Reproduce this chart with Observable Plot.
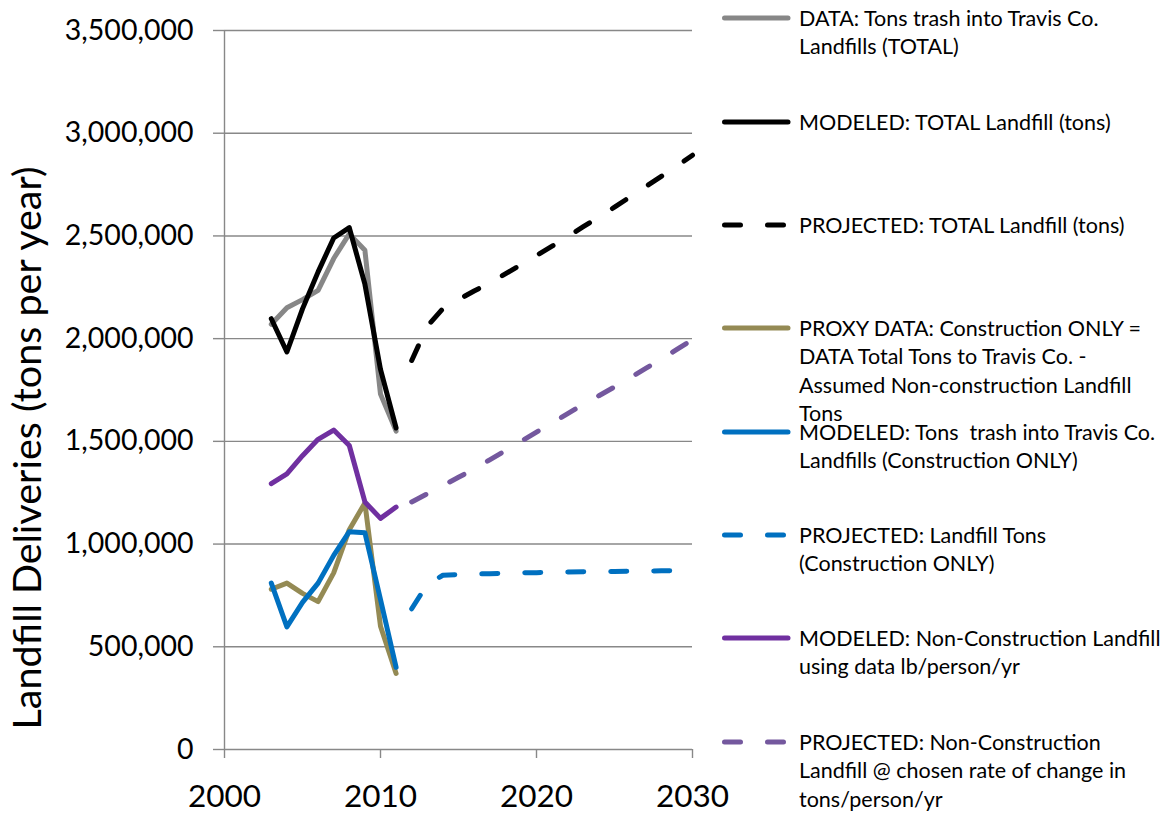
<!DOCTYPE html>
<html><head><meta charset="utf-8">
<script src="https://cdn.jsdelivr.net/npm/d3@7"></script>
<script src="https://cdn.jsdelivr.net/npm/@observablehq/plot@0.6"></script>
<style>
body{margin:0;background:#fff;}
#wrap{position:relative;width:1166px;height:814px;font-family:Lato,"Open Sans",sans-serif;}
#legend{position:absolute;left:0;top:0;pointer-events:none;}
</style></head><body><div id="wrap"></div>
<script>
// ---- data (tons per year) ----
const histYears = [2003, 2004, 2005, 2006, 2007, 2008, 2009, 2010, 2011];
const dataTotal = [2070000, 2150000, 2190000, 2235000, 2390000, 2510000, 2430000, 1730000, 1550000];
const modeledTotal = [2097000, 1935000, 2145000, 2325000, 2490000, 2540000, 2265000, 1850000, 1565000];
const proxyConstruction = [780000, 810000, 760000, 720000, 860000, 1070000, 1200000, 600000, 370000];
const modeledConstruction = [810000, 597000, 716000, 810000, 945000, 1060000, 1055000, 730000, 400000];
const modeledNonConstruction = [1294000, 1342000, 1430000, 1510000, 1555000, 1480000, 1205000, 1125000, 1180000];

const projYears = [2012, 2013, 2014, 2015, 2016, 2017, 2018, 2019, 2020, 2021, 2022, 2023, 2024, 2025, 2026, 2027, 2028, 2029, 2030];
const projTotal = [1894000, 2060000, 2146000, 2190000, 2232000, 2270000, 2315000, 2360000, 2405000, 2450000, 2497000, 2545000, 2592000, 2640000, 2690000, 2740000, 2790000, 2840000, 2893000];
const projConstruction = [685000, 805000, 848000, 852000, 854000, 856000, 858000, 860000, 861000, 862000, 864000, 865000, 866000, 867000, 868000, 869000, 870000, 871000, 873000];
const projNonConstruction = [1205000, 1245000, 1285000, 1325000, 1365000, 1410000, 1455000, 1500000, 1545000, 1590000, 1635000, 1680000, 1722000, 1765000, 1810000, 1855000, 1900000, 1948000, 1995000];

const xTicks = [2000, 2010, 2020, 2030];
const yTicks = [0, 500000, 1000000, 1500000, 2000000, 2500000, 3000000, 3500000];
const yTitle = "Landfill Deliveries (tons per year)";

const legendLabels = [
  ["DATA: Tons trash into Travis Co.", "Landfills (TOTAL)"],
  ["MODELED: TOTAL Landfill (tons)"],
  ["PROJECTED: TOTAL Landfill (tons)"],
  ["PROXY DATA: Construction ONLY =", "DATA Total Tons to Travis Co. -", "Assumed Non-construction Landfill", "Tons"],
  ["MODELED: Tons  trash into Travis Co.", "Landfills (Construction ONLY)"],
  ["PROJECTED: Landfill Tons", "(Construction ONLY)"],
  ["MODELED: Non-Construction Landfill", "using data lb/person/yr"],
  ["PROJECTED: Non-Construction", "Landfill @ chosen rate of change in", "tons/person/yr"]
];

// ---- styles ----
const colors = ["#878787", "#000000", "#000000", "#948A54", "#0070C0", "#0070C0", "#7030A0", "#74589E"];
const dashed = [false, false, true, false, false, true, false, true];
const DASH = "16,27";
const seriesList = [
  [histYears, dataTotal], [histYears, modeledTotal], [projYears, projTotal],
  [histYears, proxyConstruction], [histYears, modeledConstruction], [projYears, projConstruction],
  [histYears, modeledNonConstruction], [projYears, projNonConstruction]
];
const toRows = (xs, ys) => xs.map((x, i) => ({x, y: ys[i]}));

const gridColor = "#888888";
const lineMarks = seriesList.map(([xs, ys], i) =>
  Plot.line(toRows(xs, ys), {
    x: "x", y: "y", stroke: colors[i], strokeWidth: 5,
    strokeLinecap: "round", strokeLinejoin: "round",
    strokeDasharray: dashed[i] ? DASH : null
  }));

const chart = Plot.plot({
  width: 1166, height: 814,
  marginLeft: 224, marginRight: 474, marginTop: 30, marginBottom: 65,
  style: {fontFamily: "Lato, 'Open Sans', sans-serif", background: "white", color: "black"},
  x: {domain: [2000, 2030]},
  y: {domain: [0, 3500000]},
  marks: [
    Plot.gridY(yTicks, {stroke: gridColor, strokeOpacity: 1, strokeWidth: 1.4}),
    Plot.ruleX([2000], {stroke: gridColor, strokeWidth: 1.4}),
    Plot.axisY(yTicks, {tickSize: 11, tickPadding: 20, fontSize: 28.5, tickFormat: d3.format(","), stroke: gridColor, strokeWidth: 1.4, fill: "black", label: null}),
    Plot.axisX(xTicks, {tickSize: 9, tickPadding: 26, fontSize: 31.5, tickFormat: d => String(d), stroke: gridColor, strokeWidth: 1.4, fill: "black", label: null}),
    Plot.text([yTitle], {frameAnchor: "left", textAnchor: "middle", lineAnchor: "middle", dx: -196, dy: 58, rotate: -90, fontSize: 39.5, fill: "black"}),
    ...lineMarks
  ]
});

const wrap = document.getElementById("wrap");
wrap.appendChild(chart);

// ---- legend ----
const legendY = [18, 122, 225, 328, 432, 535, 638, 742];
const lg = d3.select(wrap).append("svg").attr("id", "legend")
  .attr("width", 1166).attr("height", 814)
  .style("font-family", "Lato, 'Open Sans', sans-serif");
legendLabels.forEach((lines, i) => {
  const y = legendY[i];
  lg.append("line")
    .attr("x1", 724.5).attr("x2", dashed[i] ? 785 : 788)
    .attr("y1", y).attr("y2", y)
    .attr("stroke", colors[i]).attr("stroke-width", 5)
    .attr("stroke-linecap", "round")
    .attr("stroke-dasharray", dashed[i] ? DASH : null);
  const t = lg.append("text").attr("x", 799).attr("y", y).attr("font-size", 21.5).attr("fill", "black");
  lines.forEach((s, j) => {
    t.append("tspan").attr("x", 799).attr("y", y + j * 28.5).attr("dy", "0.36em")
      .attr("xml:space", "preserve").style("white-space", "pre").text(s);
  });
});
</script></body></html>
